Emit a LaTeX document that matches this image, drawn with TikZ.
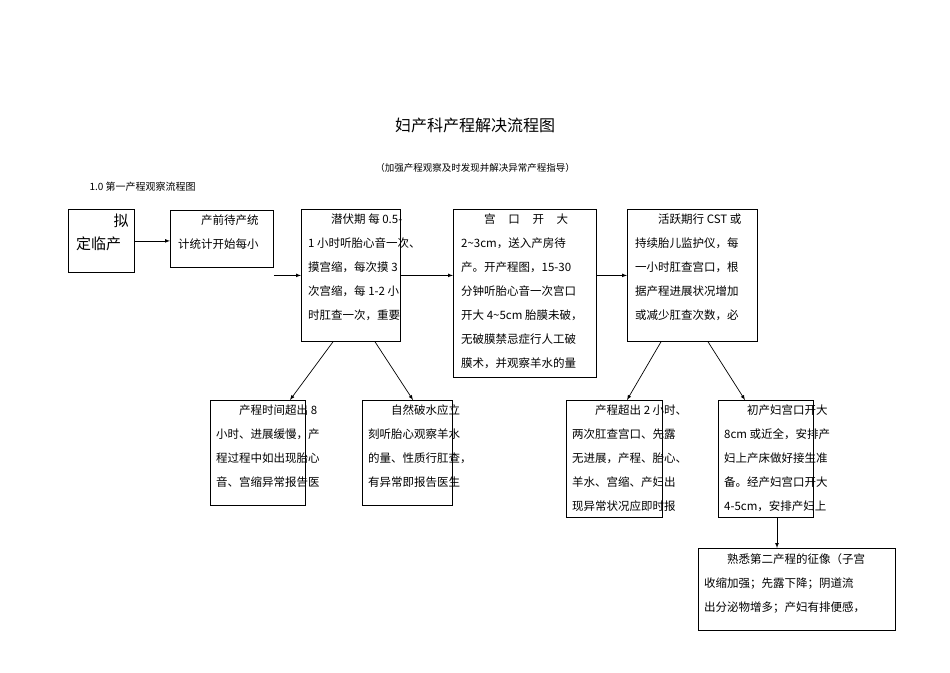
\documentclass[tikz,border=0pt]{standalone}
\usepackage{fontspec}
\setmainfont{Noto Sans CJK SC}
\XeTeXlinebreaklocale "zh"
\begin{document}
\begin{tikzpicture}[x=1pt,y=-1pt,
  box/.style={draw,line width=0.8pt,anchor=north west,inner sep=0pt},
  txt/.style={anchor=north west,align=left,inner sep=0pt,font=\fontsize{11.5}{24}\selectfont},
  arr/.style={-latex,line width=0.7pt}]
\useasboundingbox (0,0) rectangle (950,672);
\node at (475,125) {\fontsize{16}{18}\selectfont 妇产科产程解决流程图};
\node at (475,168) {\fontsize{9.5}{12}\selectfont （加强产程观察及时发现并解决异常产程指导）};
\node[anchor=west] at (86,187) {\fontsize{10}{12}\selectfont 1.0 第一产程观察流程图};
% boxes
\node[box,minimum width=66,minimum height=63] (A) at (68,209) {};
\node[box,minimum width=103,minimum height=57] (B) at (170,210) {};
\node[box,minimum width=99,minimum height=132] (C) at (301,209) {};
\node[box,minimum width=143,minimum height=168] (D) at (453,209) {};
\node[box,minimum width=130,minimum height=132] (E) at (627,209) {};
\node[box,minimum width=95,minimum height=105] (F) at (210,400) {};
\node[box,minimum width=90,minimum height=105] (G) at (362,400) {};
\node[box,minimum width=96,minimum height=117] (H) at (566,400) {};
\node[box,minimum width=95,minimum height=117] (I) at (718,400) {};
\node[box,minimum width=197,minimum height=82] (J) at (698,548) {};
% texts
\node[anchor=north east,inner sep=0pt,font=\fontsize{15}{26}\selectfont] (tA1) at ([shift={(-6,5)}]A.north east) {拟};
\node[anchor=north west,inner sep=0pt,font=\fontsize{15}{26}\selectfont] (tA2) at ([shift={(8,28)}]A.north west) {定临产};
\node[txt] (tB) at ([shift={(8,5)}]B.north west) {\hspace{2em}产前待产统\\计统计开始每小};
\node[txt] (tC) at ([shift={(7,5)}]C.north west) {\hspace{2em}潜伏期 每 0.5-\\1 小时听胎心音一次、\\摸宫缩，每次摸 3\\次宫缩，每 1-2 小\\时肛查一次，重要};
\node[txt] (tD) at ([shift={(8,5)}]D.north west) {\hspace{2em}宫\hspace{1.1em}口\hspace{1.1em}开\hspace{1.1em}大\\2\textasciitilde3cm，送入产房待\\产。开产程图，15-30\\分钟听胎心音一次宫口\\开大 4\textasciitilde5cm 胎膜未破，\\无破膜禁忌症行人工破\\膜术，并观察羊水的量};
\node[txt] (tE) at ([shift={(8,5)}]E.north west) {\hspace{2em}活跃期行 CST 或\\持续胎儿监护仪，每\\一小时肛查宫口，根\\据产程进展状况增加\\或减少肛查次数，必};
\node[txt] (tF) at ([shift={(6,5)}]F.north west) {\hspace{2em}产程时间超出 8\\小时、进展缓慢，产\\程过程中如出现胎心\\音、宫缩异常报告医};
\node[txt] (tG) at ([shift={(6,5)}]G.north west) {\hspace{2em}自然破水应立\\刻听胎心观察羊水\\的量、性质行肛查，\\有异常即报告医生};
\node[txt] (tH) at ([shift={(6,5)}]H.north west) {\hspace{2em}产程超出 2 小时、\\两次肛查宫口、先露\\无进展，产程、胎心、\\羊水、宫缩、产妇出\\现异常状况应即时报};
\node[txt] (tI) at ([shift={(6,5)}]I.north west) {\hspace{2em}初产妇宫口开大\\8cm 或近全，安排产\\妇上产床做好接生准\\备。经产妇宫口开大\\4-5cm，安排产妇上};
\node[txt] (tJ) at ([shift={(6,5)}]J.north west) {\hspace{2em}熟悉第二产程的征像（子宫\\收缩加强；先露下降；阴道流\\出分泌物增多；产妇有排便感，};
% connectors
\draw[arr] (A.east) -- (B.west |- A.east);
\draw[arr] (B.east |- C.west) -- (C.west);
\draw[arr] (C.east) -- (D.west |- C.east);
\draw[arr] (D.east |- C.east) -- (E.west);
\draw[arr] ([xshift=32]C.south west) -- ([xshift=80]F.north west);
\draw[arr] ([xshift=74]C.south west) -- ([xshift=51]G.north west);
\draw[arr] ([xshift=34]E.south west) -- ([xshift=61]H.north west);
\draw[arr] ([xshift=81]E.south west) -- ([xshift=27]I.north west);
\draw[arr] ([xshift=59]I.south west) -- ([xshift=79]J.north west);
\end{tikzpicture}
\end{document}
